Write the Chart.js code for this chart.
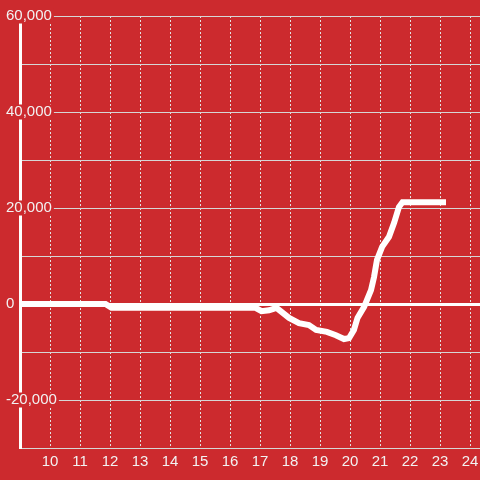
<!DOCTYPE html>
<html>
<head>
<meta charset="utf-8">
<script src="https://cdn.jsdelivr.net/npm/chart.js@4"></script>
<style>
  html, body { margin: 0; padding: 0; background: #cc2a2e; }
  #wrap { width: 480px; height: 480px; position: relative; }
</style>
</head>
<body>
<div id="wrap"><canvas id="balanceChart"></canvas></div>
<script>
// data
const xValues = [8.5, 11.85, 12.05, 16.85, 17.05, 17.3, 17.55, 17.97, 18.3, 18.63, 18.87, 19.23, 19.53, 19.8, 19.97, 20.13, 20.25, 20.47, 20.7, 20.8, 20.9, 21.07, 21.3, 21.47, 21.63, 21.75, 23.2];
const yValues = [0, 0, -800, -800, -1500, -1300, -800, -2900, -4000, -4400, -5400, -5800, -6500, -7300, -7100, -5400, -2900, -600, 2900, 5600, 9200, 11900, 14000, 16900, 20200, 21200, 21200];

// ticks
const xTicks = [10, 11, 12, 13, 14, 15, 16, 17, 18, 19, 20, 21, 22, 23, 24];
const yGridValues = [-30000, -20000, -10000, 0, 10000, 20000, 30000, 40000, 50000, 60000];
const yLabelValues = [-20000, 0, 20000, 40000, 60000];

const RED = '#cc2a2e';
const FONT = "'Liberation Sans', Arial, sans-serif";

const points = xValues.map((x, i) => ({ x: x, y: yValues[i] }));

const ctx = document.getElementById('balanceChart').getContext('2d');

new Chart(ctx, {
    type: 'line',
    data: {
        datasets: [{
            data: points,
            borderColor: '#ffffff',
            borderWidth: 6,
            tension: 0,
            pointRadius: 0,
            fill: false
        }]
    },
    options: {
        responsive: true,
        maintainAspectRatio: false,
        animation: false,
        layout: { padding: { left: 20, top: 16, right: 0, bottom: 0 } },
        plugins: { legend: { display: false }, tooltip: { enabled: false } },
        scales: {
            x: {
                type: 'linear',
                min: 9,
                max: 24.333,
                afterBuildTicks: scale => { scale.ticks = xTicks.map(v => ({ value: v })); },
                afterFit: scale => {
                    scale.height = 32;
                    scale.paddingLeft = 0;
                    scale.paddingRight = 0;
                },
                grid: { color: '#e2e2e2', lineWidth: 1, drawTicks: false },
                border: { color: '#d6d6d6', width: 1, dash: [2, 2] },
                ticks: {
                    color: '#f2f2f2',
                    padding: 5,
                    font: { family: FONT, size: 15 },
                    callback: v => String(v)
                }
            },
            y: {
                min: -30000,
                max: 60000,
                afterBuildTicks: scale => { scale.ticks = yGridValues.map(v => ({ value: v })); },
                afterFit: scale => { scale.width = 0; },
                grid: {
                    drawTicks: false,
                    color: c => c.tick && c.tick.value === 0 ? '#ffffff' : '#d6d6d6',
                    lineWidth: c => c.tick && c.tick.value === 0 ? 3 : 1
                },
                border: { color: '#ffffff', width: 3 },
                ticks: {
                    mirror: true,
                    padding: -14,
                    color: '#f2f2f2',
                    font: { family: FONT, size: 15, lineHeight: 1 },
                    showLabelBackdrop: c => yLabelValues.includes(c.tick.value),
                    backdropColor: RED,
                    backdropPadding: { x: 2, y: 0 },
                    callback: v => yLabelValues.includes(v) ? v.toLocaleString('en-US') : ''
                }
            }
        }
    }
});
</script>
</body>
</html>
